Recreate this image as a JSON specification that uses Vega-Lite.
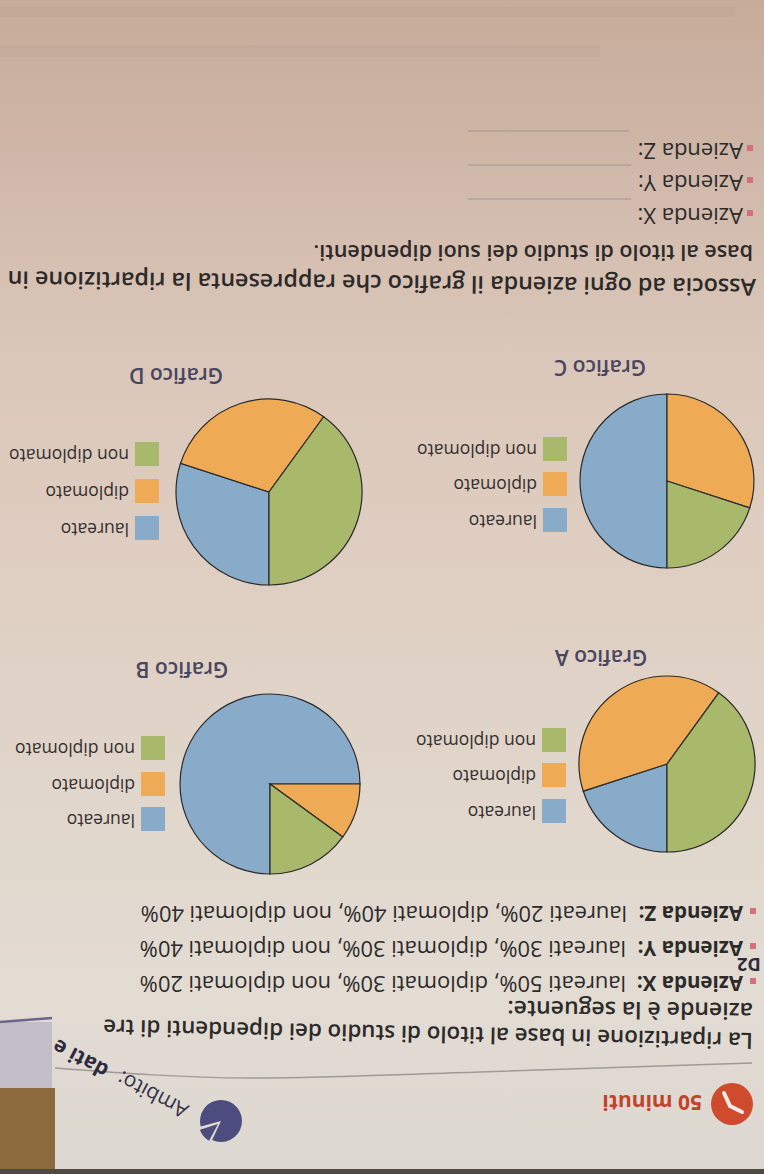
{
  "$schema": "https://vega.github.io/schema/vega-lite/v6.json",
  "width": 764,
  "height": 1174,
  "autosize": "none",
  "padding": 0,
  "background": "#dccdc0",
  "config": {"view": {"stroke": null}, "text": {"font": "Open Sans"}},
  "datasets": {
    "pies": [
      {"grafico": "A", "titolo": "laureato", "pct": 20, "n": 1},
      {"grafico": "A", "titolo": "diplomato", "pct": 40, "n": 2},
      {"grafico": "A", "titolo": "non diplomato", "pct": 40, "n": 3},
      {"grafico": "B", "titolo": "laureato", "pct": 75, "n": 1},
      {"grafico": "B", "titolo": "diplomato", "pct": 10, "n": 2},
      {"grafico": "B", "titolo": "non diplomato", "pct": 15, "n": 3},
      {"grafico": "C", "titolo": "laureato", "pct": 50, "n": 1},
      {"grafico": "C", "titolo": "diplomato", "pct": 30, "n": 2},
      {"grafico": "C", "titolo": "non diplomato", "pct": 20, "n": 3},
      {"grafico": "D", "titolo": "laureato", "pct": 30, "n": 1},
      {"grafico": "D", "titolo": "diplomato", "pct": 30, "n": 2},
      {"grafico": "D", "titolo": "non diplomato", "pct": 40, "n": 3}
    ],
    "legenda": [
      {"grafico": "A", "titolo": "laureato", "x": 554, "y": 811},
      {"grafico": "A", "titolo": "diplomato", "x": 554, "y": 775},
      {"grafico": "A", "titolo": "non diplomato", "x": 554, "y": 740},
      {"grafico": "B", "titolo": "laureato", "x": 153, "y": 819},
      {"grafico": "B", "titolo": "diplomato", "x": 153, "y": 784},
      {"grafico": "B", "titolo": "non diplomato", "x": 153, "y": 748},
      {"grafico": "C", "titolo": "laureato", "x": 555, "y": 520},
      {"grafico": "C", "titolo": "diplomato", "x": 555, "y": 484},
      {"grafico": "C", "titolo": "non diplomato", "x": 555, "y": 449},
      {"grafico": "D", "titolo": "laureato", "x": 147, "y": 528},
      {"grafico": "D", "titolo": "diplomato", "x": 147, "y": 491},
      {"grafico": "D", "titolo": "non diplomato", "x": 147, "y": 454}
    ],
    "titoli": [
      {"t": "Grafico A", "x": 601, "y": 656},
      {"t": "Grafico B", "x": 182, "y": 668},
      {"t": "Grafico C", "x": 600, "y": 366},
      {"t": "Grafico D", "x": 176, "y": 374}
    ],
    "intro": [
      {"t": "base al titolo di studio dei suoi dipendenti.", "x": 753, "y": 245}
    ],
    "riga0": [{"t": "aziende è la seguente:", "x": 753, "y": 1003}],
    "riga1": [{"t": "La ripartizione in base al titolo di studio dei dipendenti di tre", "x": 753, "y": 1033}],
    "riga2": [{"t": "Associa ad ogni azienda il grafico che rappresenta la ripartizione in", "x": 756, "y": 279}],
    "aziende": [
      {"t": "Azienda X:", "x": 743, "y": 976},
      {"t": "Azienda Y:", "x": 743, "y": 941},
      {"t": "Azienda Z:", "x": 743, "y": 906}
    ],
    "dati": [
      {"t": "laureati 50%, diplomati 30%, non diplomati 20%", "x": 626, "y": 976},
      {"t": "laureati 30%, diplomati 30%, non diplomati 40%", "x": 626, "y": 941},
      {"t": "laureati 20%, diplomati 40%, non diplomati 40%", "x": 627, "y": 906}
    ],
    "risposte": [
      {"t": "Azienda X:", "x": 743, "y": 208},
      {"t": "Azienda Y:", "x": 743, "y": 175},
      {"t": "Azienda Z:", "x": 743, "y": 143}
    ],
    "punti": [
      {"x": 753, "y": 981}, {"x": 753, "y": 946}, {"x": 753, "y": 911},
      {"x": 750, "y": 213}, {"x": 750, "y": 180}, {"x": 750, "y": 148}
    ],
    "linee": [
      {"x": 468, "y": 199, "x2": 631, "y2": 199},
      {"x": 468, "y": 165, "x2": 631, "y2": 165},
      {"x": 468, "y": 131, "x2": 629, "y2": 131}
    ],
    "bordo": [
      {"x": 55, "y": 1068}, {"x": 250, "y": 1078}, {"x": 480, "y": 1072}, {"x": 752, "y": 1063}
    ],
    "lancette": [
      {"x": 724, "y": 1093, "x2": 730, "y2": 1106},
      {"x": 730, "y": 1106, "x2": 742, "y2": 1112}
    ],
    "viola": [{"x": 0, "y": 1022, "x2": 52, "y2": 1018}],
    "grigio": [{"x": 0, "y": 1022, "x2": 52, "y2": 1088}],
    "marrone": [{"x": 0, "y": 1088, "x2": 55, "y2": 1174}],
    "fondo": [{"x": 0, "y": 1169, "x2": 764, "y2": 1174}],
    "fantasmi": [
      {"x": 0, "y": 7, "x2": 735, "y2": 17},
      {"x": 0, "y": 45, "x2": 600, "y2": 57}
    ]
  },
  "layer": [
    {
      "data": {"values": [{"pagina": 1}]},
      "mark": {"type": "rect", "color": {"gradient": "linear", "x1": 0, "y1": 0, "x2": 0, "y2": 1, "stops": [
        {"offset": 0, "color": "#c7ab9b"},
        {"offset": 0.12, "color": "#ceb6a7"},
        {"offset": 0.3, "color": "#dac7b9"},
        {"offset": 0.5, "color": "#dfcfc2"},
        {"offset": 0.7, "color": "#e1d7cc"},
        {"offset": 0.85, "color": "#e2dcd3"},
        {"offset": 1, "color": "#dcd7d0"}]}},
      "encoding": {
        "x": {"datum": 0, "type": "quantitative", "scale": {"domain": [0, 764], "nice": false, "zero": false}, "axis": null},
        "x2": {"datum": 764},
        "y": {"datum": 0, "type": "quantitative", "scale": {"domain": [0, 1174], "nice": false, "zero": false, "reverse": true}, "axis": null},
        "y2": {"datum": 1174}
      }
    },
    {
      "data": {"name": "fantasmi"},
      "mark": {"type": "rect", "color": "#6b5548", "opacity": 0.045},
      "encoding": {
        "x": {"field": "x", "type": "quantitative", "scale": {"domain": [0, 764], "nice": false, "zero": false}, "axis": null},
        "y": {"field": "y", "type": "quantitative", "scale": {"domain": [0, 1174], "nice": false, "zero": false, "reverse": true}, "axis": null},
        "x2": {"field": "x2"}, "y2": {"field": "y2"}
      }
    },
    {
      "data": {"name": "pies"},
      "transform": [{"filter": "datum.grafico === 'A'"}],
      "mark": {"type": "arc", "outerRadius": 88, "stroke": "#2b2a2a", "strokeWidth": 1.2},
      "encoding": {
        "x": {"datum": 667, "type": "quantitative", "scale": {"domain": [0, 764], "nice": false, "zero": false}, "axis": null},
        "y": {"datum": 764, "type": "quantitative", "scale": {"domain": [0, 1174], "nice": false, "zero": false, "reverse": true}, "axis": null},
        "theta": {"field": "pct", "type": "quantitative", "stack": true, "scale": {"domain": [0, 100], "range": [3.14159, 9.42478]}},
        "color": {"field": "titolo", "type": "nominal", "scale": {"domain": ["laureato", "diplomato", "non diplomato"], "range": ["#89abca", "#eeaa54", "#a8b96c"]}, "legend": null},
        "order": {"field": "n", "type": "quantitative"}
      }
    },
    {
      "data": {"name": "pies"},
      "transform": [{"filter": "datum.grafico === 'B'"}],
      "mark": {"type": "arc", "outerRadius": 90, "stroke": "#2b2a2a", "strokeWidth": 1.2},
      "encoding": {
        "x": {"datum": 270, "type": "quantitative", "scale": {"domain": [0, 764], "nice": false, "zero": false}, "axis": null},
        "y": {"datum": 784, "type": "quantitative", "scale": {"domain": [0, 1174], "nice": false, "zero": false, "reverse": true}, "axis": null},
        "theta": {"field": "pct", "type": "quantitative", "stack": true, "scale": {"domain": [0, 100], "range": [3.14159, 9.42478]}},
        "color": {"field": "titolo", "type": "nominal", "scale": {"domain": ["laureato", "diplomato", "non diplomato"], "range": ["#89abca", "#eeaa54", "#a8b96c"]}, "legend": null},
        "order": {"field": "n", "type": "quantitative"}
      }
    },
    {
      "data": {"name": "pies"},
      "transform": [{"filter": "datum.grafico === 'C'"}],
      "mark": {"type": "arc", "outerRadius": 87, "stroke": "#2b2a2a", "strokeWidth": 1.2},
      "encoding": {
        "x": {"datum": 667, "type": "quantitative", "scale": {"domain": [0, 764], "nice": false, "zero": false}, "axis": null},
        "y": {"datum": 481, "type": "quantitative", "scale": {"domain": [0, 1174], "nice": false, "zero": false, "reverse": true}, "axis": null},
        "theta": {"field": "pct", "type": "quantitative", "stack": true, "scale": {"domain": [0, 100], "range": [3.14159, 9.42478]}},
        "color": {"field": "titolo", "type": "nominal", "scale": {"domain": ["laureato", "diplomato", "non diplomato"], "range": ["#89abca", "#eeaa54", "#a8b96c"]}, "legend": null},
        "order": {"field": "n", "type": "quantitative"}
      }
    },
    {
      "data": {"name": "pies"},
      "transform": [{"filter": "datum.grafico === 'D'"}],
      "mark": {"type": "arc", "outerRadius": 93, "stroke": "#2b2a2a", "strokeWidth": 1.2},
      "encoding": {
        "x": {"datum": 269, "type": "quantitative", "scale": {"domain": [0, 764], "nice": false, "zero": false}, "axis": null},
        "y": {"datum": 492, "type": "quantitative", "scale": {"domain": [0, 1174], "nice": false, "zero": false, "reverse": true}, "axis": null},
        "theta": {"field": "pct", "type": "quantitative", "stack": true, "scale": {"domain": [0, 100], "range": [3.14159, 9.42478]}},
        "color": {"field": "titolo", "type": "nominal", "scale": {"domain": ["laureato", "diplomato", "non diplomato"], "range": ["#89abca", "#eeaa54", "#a8b96c"]}, "legend": null},
        "order": {"field": "n", "type": "quantitative"}
      }
    },
    {
      "data": {"name": "legenda"},
      "mark": {"type": "point", "shape": "square", "size": 576, "filled": true, "opacity": 1},
      "encoding": {
        "x": {"field": "x", "type": "quantitative", "scale": {"domain": [0, 764], "nice": false, "zero": false}, "axis": null},
        "y": {"field": "y", "type": "quantitative", "scale": {"domain": [0, 1174], "nice": false, "zero": false, "reverse": true}, "axis": null},
        "color": {"field": "titolo", "type": "nominal", "scale": {"domain": ["laureato", "diplomato", "non diplomato"], "range": ["#89abca", "#eeaa54", "#a8b96c"]}, "legend": null}
      }
    },
    {
      "data": {"name": "legenda"},
      "mark": {"type": "text", "angle": 180, "align": "left", "baseline": "middle", "dx": 18, "fontSize": 17.5, "color": "#353030"},
      "encoding": {
        "x": {"field": "x", "type": "quantitative", "scale": {"domain": [0, 764], "nice": false, "zero": false}, "axis": null},
        "y": {"field": "y", "type": "quantitative", "scale": {"domain": [0, 1174], "nice": false, "zero": false, "reverse": true}, "axis": null},
        "text": {"field": "titolo"}
      }
    },
    {
      "data": {"name": "titoli"},
      "mark": {"type": "text", "angle": 180, "align": "center", "baseline": "middle", "fontSize": 21, "fontWeight": 600, "color": "#4a4660"},
      "encoding": {
        "x": {"field": "x", "type": "quantitative", "scale": {"domain": [0, 764], "nice": false, "zero": false}, "axis": null},
        "y": {"field": "y", "type": "quantitative", "scale": {"domain": [0, 1174], "nice": false, "zero": false, "reverse": true}, "axis": null},
        "text": {"field": "t"}
      }
    },
    {
      "data": {"name": "intro"},
      "mark": {"type": "text", "angle": 180, "align": "left", "baseline": "alphabetic", "fontSize": 21.5, "fontWeight": 600, "color": "#2d2a2a"},
      "encoding": {
        "x": {"field": "x", "type": "quantitative", "scale": {"domain": [0, 764], "nice": false, "zero": false}, "axis": null},
        "y": {"field": "y", "type": "quantitative", "scale": {"domain": [0, 1174], "nice": false, "zero": false, "reverse": true}, "axis": null},
        "text": {"field": "t"}
      }
    },
    {
      "data": {"name": "riga0"},
      "mark": {"type": "text", "angle": 180.5, "align": "left", "baseline": "alphabetic", "fontSize": 23, "fontWeight": 600, "color": "#2d2a2a"},
      "encoding": {
        "x": {"field": "x", "type": "quantitative", "scale": {"domain": [0, 764], "nice": false, "zero": false}, "axis": null},
        "y": {"field": "y", "type": "quantitative", "scale": {"domain": [0, 1174], "nice": false, "zero": false, "reverse": true}, "axis": null},
        "text": {"field": "t"}
      }
    },
    {
      "data": {"name": "riga1"},
      "mark": {"type": "text", "angle": 181.2, "align": "left", "baseline": "alphabetic", "fontSize": 22.3, "fontWeight": 600, "color": "#2d2a2a"},
      "encoding": {
        "x": {"field": "x", "type": "quantitative", "scale": {"domain": [0, 764], "nice": false, "zero": false}, "axis": null},
        "y": {"field": "y", "type": "quantitative", "scale": {"domain": [0, 1174], "nice": false, "zero": false, "reverse": true}, "axis": null},
        "text": {"field": "t"}
      }
    },
    {
      "data": {"name": "riga2"},
      "mark": {"type": "text", "angle": 180.6, "align": "left", "baseline": "alphabetic", "fontSize": 23.3, "fontWeight": 600, "color": "#2d2a2a"},
      "encoding": {
        "x": {"field": "x", "type": "quantitative", "scale": {"domain": [0, 764], "nice": false, "zero": false}, "axis": null},
        "y": {"field": "y", "type": "quantitative", "scale": {"domain": [0, 1174], "nice": false, "zero": false, "reverse": true}, "axis": null},
        "text": {"field": "t"}
      }
    },
    {
      "data": {"name": "aziende"},
      "mark": {"type": "text", "angle": 180, "align": "left", "baseline": "alphabetic", "fontSize": 20.5, "fontWeight": 700, "color": "#2d2a2a"},
      "encoding": {
        "x": {"field": "x", "type": "quantitative", "scale": {"domain": [0, 764], "nice": false, "zero": false}, "axis": null},
        "y": {"field": "y", "type": "quantitative", "scale": {"domain": [0, 1174], "nice": false, "zero": false, "reverse": true}, "axis": null},
        "text": {"field": "t"}
      }
    },
    {
      "data": {"name": "dati"},
      "mark": {"type": "text", "angle": 180, "align": "left", "baseline": "alphabetic", "fontSize": 21.9, "fontWeight": 400, "color": "#2d2a2a"},
      "encoding": {
        "x": {"field": "x", "type": "quantitative", "scale": {"domain": [0, 764], "nice": false, "zero": false}, "axis": null},
        "y": {"field": "y", "type": "quantitative", "scale": {"domain": [0, 1174], "nice": false, "zero": false, "reverse": true}, "axis": null},
        "text": {"field": "t"}
      }
    },
    {
      "data": {"name": "risposte"},
      "mark": {"type": "text", "angle": 180, "align": "left", "baseline": "alphabetic", "fontSize": 22, "fontWeight": 400, "color": "#2d2a2a"},
      "encoding": {
        "x": {"field": "x", "type": "quantitative", "scale": {"domain": [0, 764], "nice": false, "zero": false}, "axis": null},
        "y": {"field": "y", "type": "quantitative", "scale": {"domain": [0, 1174], "nice": false, "zero": false, "reverse": true}, "axis": null},
        "text": {"field": "t"}
      }
    },
    {
      "data": {"name": "punti"},
      "mark": {"type": "point", "shape": "square", "size": 36, "filled": true, "opacity": 1, "color": "#d4707c"},
      "encoding": {
        "x": {"field": "x", "type": "quantitative", "scale": {"domain": [0, 764], "nice": false, "zero": false}, "axis": null},
        "y": {"field": "y", "type": "quantitative", "scale": {"domain": [0, 1174], "nice": false, "zero": false, "reverse": true}, "axis": null}
      }
    },
    {
      "data": {"name": "linee"},
      "mark": {"type": "rule", "color": "#9d9791", "strokeWidth": 1},
      "encoding": {
        "x": {"field": "x", "type": "quantitative", "scale": {"domain": [0, 764], "nice": false, "zero": false}, "axis": null},
        "y": {"field": "y", "type": "quantitative", "scale": {"domain": [0, 1174], "nice": false, "zero": false, "reverse": true}, "axis": null},
        "x2": {"field": "x2"}, "y2": {"field": "y2"}
      }
    },
    {
      "data": {"name": "bordo"},
      "mark": {"type": "line", "color": "#a09a96", "strokeWidth": 1.5, "interpolate": "monotone"},
      "encoding": {
        "x": {"field": "x", "type": "quantitative", "scale": {"domain": [0, 764], "nice": false, "zero": false}, "axis": null},
        "y": {"field": "y", "type": "quantitative", "scale": {"domain": [0, 1174], "nice": false, "zero": false, "reverse": true}, "axis": null}
      }
    },
    {
      "data": {"values": [{"t": "50 minuti"}]},
      "mark": {"type": "text", "angle": 180, "align": "left", "baseline": "alphabetic", "fontSize": 21, "fontWeight": 700, "color": "#c0442c"},
      "encoding": {
        "x": {"datum": 702, "type": "quantitative", "scale": {"domain": [0, 764], "nice": false, "zero": false}, "axis": null},
        "y": {"datum": 1095, "type": "quantitative", "scale": {"domain": [0, 1174], "nice": false, "zero": false, "reverse": true}, "axis": null},
        "text": {"field": "t"}
      }
    },
    {
      "data": {"values": [{"icona": "orologio"}]},
      "mark": {"type": "point", "shape": "circle", "size": 1764, "filled": true, "opacity": 1, "color": "#cf4b2d"},
      "encoding": {
        "x": {"datum": 732, "type": "quantitative", "scale": {"domain": [0, 764], "nice": false, "zero": false}, "axis": null},
        "y": {"datum": 1104, "type": "quantitative", "scale": {"domain": [0, 1174], "nice": false, "zero": false, "reverse": true}, "axis": null}
      }
    },
    {
      "data": {"name": "lancette"},
      "mark": {"type": "rule", "color": "#f3ece6", "strokeWidth": 4, "strokeCap": "round"},
      "encoding": {
        "x": {"field": "x", "type": "quantitative", "scale": {"domain": [0, 764], "nice": false, "zero": false}, "axis": null},
        "y": {"field": "y", "type": "quantitative", "scale": {"domain": [0, 1174], "nice": false, "zero": false, "reverse": true}, "axis": null},
        "x2": {"field": "x2"}, "y2": {"field": "y2"}
      }
    },
    {
      "data": {"values": [{"icona": "torta"}]},
      "mark": {"type": "arc", "outerRadius": 21, "theta": 4.4506, "theta2": 9.8611, "color": "#4d4c7e"},
      "encoding": {
        "x": {"datum": 221, "type": "quantitative", "scale": {"domain": [0, 764], "nice": false, "zero": false}, "axis": null},
        "y": {"datum": 1121, "type": "quantitative", "scale": {"domain": [0, 1174], "nice": false, "zero": false, "reverse": true}, "axis": null}
      }
    },
    {
      "data": {"values": [{"icona": "spicchio"}]},
      "mark": {"type": "arc", "outerRadius": 19, "theta": 3.6303, "theta2": 4.3982, "color": "#4d4c7e"},
      "encoding": {
        "x": {"datum": 218, "type": "quantitative", "scale": {"domain": [0, 764], "nice": false, "zero": false}, "axis": null},
        "y": {"datum": 1124, "type": "quantitative", "scale": {"domain": [0, 1174], "nice": false, "zero": false, "reverse": true}, "axis": null}
      }
    },
    {
      "data": {"values": [{"t": "Ambito:"}]},
      "mark": {"type": "text", "angle": 207.7, "align": "left", "baseline": "alphabetic", "fontSize": 21, "fontWeight": 400, "color": "#34324a"},
      "encoding": {
        "x": {"datum": 190, "type": "quantitative", "scale": {"domain": [0, 764], "nice": false, "zero": false}, "axis": null},
        "y": {"datum": 1106, "type": "quantitative", "scale": {"domain": [0, 1174], "nice": false, "zero": false, "reverse": true}, "axis": null},
        "text": {"field": "t"}
      }
    },
    {
      "data": {"values": [{"t": "dati e"}]},
      "mark": {"type": "text", "angle": 207.7, "align": "left", "baseline": "alphabetic", "fontSize": 21, "fontWeight": 700, "color": "#2d2b3e"},
      "encoding": {
        "x": {"datum": 110, "type": "quantitative", "scale": {"domain": [0, 764], "nice": false, "zero": false}, "axis": null},
        "y": {"datum": 1066, "type": "quantitative", "scale": {"domain": [0, 1174], "nice": false, "zero": false, "reverse": true}, "axis": null},
        "text": {"field": "t"}
      }
    },
    {
      "data": {"values": [{"t": "D2"}]},
      "mark": {"type": "text", "angle": 180, "align": "center", "baseline": "middle", "fontSize": 18, "fontWeight": 700, "color": "#2e2c3a"},
      "encoding": {
        "x": {"datum": 749, "type": "quantitative", "scale": {"domain": [0, 764], "nice": false, "zero": false}, "axis": null},
        "y": {"datum": 963, "type": "quantitative", "scale": {"domain": [0, 1174], "nice": false, "zero": false, "reverse": true}, "axis": null},
        "text": {"field": "t"}
      }
    },
    {
      "data": {"name": "grigio"},
      "mark": {"type": "rect", "color": "#c3bec8"},
      "encoding": {
        "x": {"field": "x", "type": "quantitative", "scale": {"domain": [0, 764], "nice": false, "zero": false}, "axis": null},
        "y": {"field": "y", "type": "quantitative", "scale": {"domain": [0, 1174], "nice": false, "zero": false, "reverse": true}, "axis": null},
        "x2": {"field": "x2"}, "y2": {"field": "y2"}
      }
    },
    {
      "data": {"name": "marrone"},
      "mark": {"type": "rect", "color": "#8c6a3d"},
      "encoding": {
        "x": {"field": "x", "type": "quantitative", "scale": {"domain": [0, 764], "nice": false, "zero": false}, "axis": null},
        "y": {"field": "y", "type": "quantitative", "scale": {"domain": [0, 1174], "nice": false, "zero": false, "reverse": true}, "axis": null},
        "x2": {"field": "x2"}, "y2": {"field": "y2"}
      }
    },
    {
      "data": {"name": "viola"},
      "mark": {"type": "rule", "color": "#6c668e", "strokeWidth": 2.5},
      "encoding": {
        "x": {"field": "x", "type": "quantitative", "scale": {"domain": [0, 764], "nice": false, "zero": false}, "axis": null},
        "y": {"field": "y", "type": "quantitative", "scale": {"domain": [0, 1174], "nice": false, "zero": false, "reverse": true}, "axis": null},
        "x2": {"field": "x2"}, "y2": {"field": "y2"}
      }
    },
    {
      "data": {"name": "fondo"},
      "mark": {"type": "rect", "color": "#4f4943"},
      "encoding": {
        "x": {"field": "x", "type": "quantitative", "scale": {"domain": [0, 764], "nice": false, "zero": false}, "axis": null},
        "y": {"field": "y", "type": "quantitative", "scale": {"domain": [0, 1174], "nice": false, "zero": false, "reverse": true}, "axis": null},
        "x2": {"field": "x2"}, "y2": {"field": "y2"}
      }
    }
  ]
}
